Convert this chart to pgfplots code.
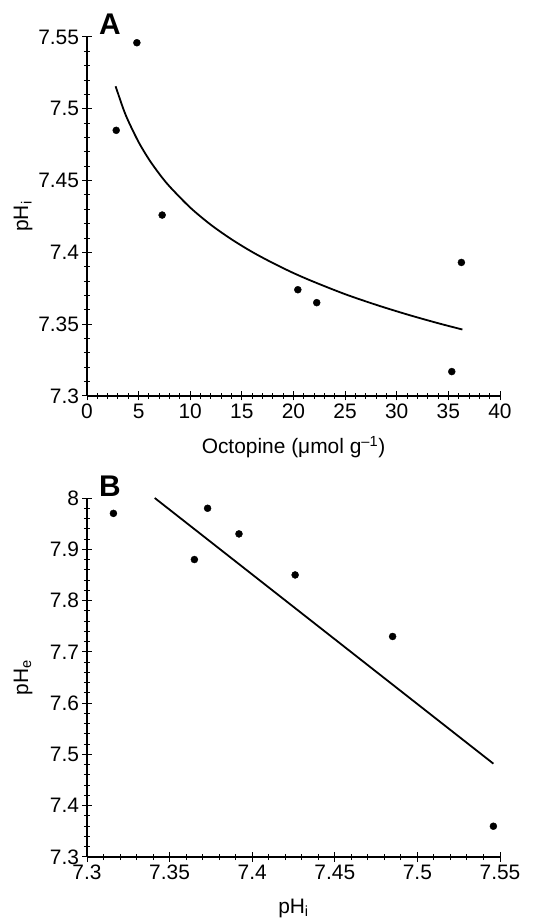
\documentclass[border=0pt]{standalone}
\usepackage{pgfplots}
\pgfplotsset{compat=1.18}
\usepackage{fontspec}
\setmainfont{Liberation Sans}
\begin{document}
\begin{tikzpicture}
\path[use as bounding box] (0bp,0bp) rectangle (545bp,922bp);
\pgfplotsset{
 myax/.style={
  scale only axis, width=413bp, height=359bp,
  axis lines=left, axis line style={-, line width=1.2bp},
  tick align=center, major tick length=9bp, minor tick length=6bp,
  every tick/.style={line width=1bp, black},
  tick label style={font=\fontsize{21}{25}\selectfont},
  label style={font=\fontsize{21}{25}\selectfont},
  /pgf/number format/assume math mode=true,
  xlabel style={at={(axis description cs:0.5,-0.142)}, anchor=center},
  ylabel style={at={(axis description cs:-0.155,0.5)}, anchor=center},
  clip=false,
 }
}
\begin{axis}[myax, at={(87bp,526bp)}, anchor=south west,
  xmin=0, xmax=40, ymin=7.3, ymax=7.55,
  xtick={0,5,10,15,20,25,30,35,40}, minor x tick num=4,
  ytick={7.3,7.35,7.4,7.45,7.5,7.55}, minor y tick num=4,
  xlabel={Octopine (μmol g\textsuperscript{–1})},
  ylabel={pH\textsubscript{i}}]
\addplot[only marks, mark=*, mark size=3.5bp, black] coordinates {
 (2.83,7.485) (4.83,7.546) (7.28,7.426) (20.42,7.374) (22.25,7.365) (35.33,7.317) (36.26,7.393)};
\addplot[black, line width=1.8bp, smooth] coordinates {
 (2.77,7.5157) (3.5,7.5003) (4,7.4915) (5,7.4768) (6,7.4648) (7,7.4547) (8,7.4459)
 (10,7.4312) (12,7.4192) (14,7.4091) (16,7.4003) (18,7.3926) (20,7.3856) (22,7.3794)
 (25,7.3709) (28,7.3635) (31,7.3568) (34,7.3507) (36.36,7.3463)};
\end{axis}
\node[font=\bfseries\fontsize{30}{30}\selectfont] at (110bp,898bp) {A};
\begin{axis}[myax, at={(87bp,65bp)}, anchor=south west,
  xmin=7.3, xmax=7.55, ymin=7.3, ymax=8,
  xtick={7.3,7.35,7.4,7.45,7.5,7.55}, minor x tick num=4,
  ytick={7.3,7.4,7.5,7.6,7.7,7.8,7.9,8}, minor y tick num=4,
  xticklabels={7.3,7.35,7.4,7.45,7.5,7.55},
  yticklabels={7.3,7.4,7.5,7.6,7.7,7.8,7.9,8},
  xlabel={pH\textsubscript{i}},
  ylabel={pH\textsubscript{e}}]
\addplot[only marks, mark=*, mark size=3.5bp, black] coordinates {
 (7.316,7.97) (7.365,7.88) (7.373,7.98) (7.392,7.93) (7.426,7.85) (7.485,7.73) (7.546,7.36)};
\addplot[black, line width=1.8bp] coordinates {(7.341,8.0) (7.546,7.482)};
\end{axis}
\node[font=\bfseries\fontsize{30}{30}\selectfont] at (110bp,436bp) {B};
\end{tikzpicture}
\end{document}
